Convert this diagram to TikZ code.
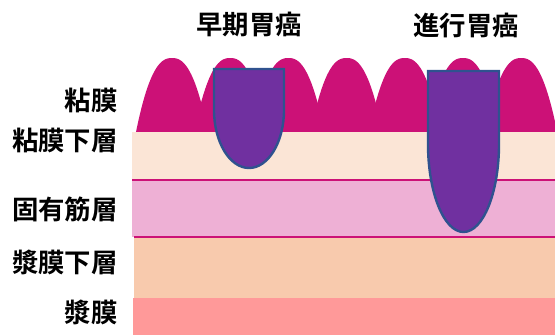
\documentclass[tikz,border=0pt]{standalone}
\usepackage{fontspec}
\newfontfamily\jp{Noto Sans CJK JP}[BoldFont={Noto Sans CJK JP Bold}]
\definecolor{mucosa}{HTML}{CC1177}
\definecolor{submucosa}{HTML}{FBE5D6}
\definecolor{muscle}{HTML}{EEB0D5}
\definecolor{subserosa}{HTML}{F8CAAD}
\definecolor{serosa}{HTML}{FF9999}
\definecolor{cancer}{HTML}{7030A0}
\definecolor{rim}{HTML}{2F528F}

\begin{document}
\begin{tikzpicture}[x=0.5pt,y=-0.5pt,
  layer/.style={font=\jp\bfseries\fontsize{13.2}{15}\selectfont,inner sep=0pt},
  tumor/.style={fill=cancer,draw=rim,line width=1.2pt}]
\useasboundingbox (0,0) rectangle (555,335);
\fill[serosa] (133,298) rectangle (555,335);
\fill[subserosa] (134,237) rectangle (555,298);
\fill[muscle] (132,180) rectangle (555,237);
\fill[submucosa] (132,132) rectangle (555,180);
\draw[mucosa,line width=0.6pt] (132,180) -- (555,180);
\draw[mucosa,line width=0.6pt] (134,237) -- (555,237);
% folds of the mucosa
\foreach \i in {0,...,6}
  \fill[mucosa] plot[domain=-36:36,samples=40]
    ({172+58.2*\i+\x},{132-74*(1-(abs(\x)/36)^2.4)}) -- cycle;
% early and advanced tumours
\draw[tumor] (214,69) -- (284,69) -- (284,110)
  .. controls (284,142) and (268.3,168) .. (249,168)
  .. controls (229.7,168) and (214,142) .. (214,110) -- cycle;
\draw[tumor] (428,71) -- (499,71) -- (499,144)
  .. controls (499,192.6) and (483.1,232) .. (463.5,232)
  .. controls (443.9,232) and (428,192.6) .. (428,144) -- cycle;
\node[layer] (early) at (249,25) {早期胃癌};
\node[layer] (advanced) at (466,25) {進行胃癌};
\node[layer,anchor=east] (m) at (118,100) {粘膜};
\node[layer,anchor=east] (sm) at (118,140) {粘膜下層};
\node[layer,anchor=east] (mp) at (118,209) {固有筋層};
\node[layer,anchor=east] (ss) at (118,262) {漿膜下層};
\node[layer,anchor=east] (s) at (118,312) {漿膜};
\end{tikzpicture}
\end{document}
